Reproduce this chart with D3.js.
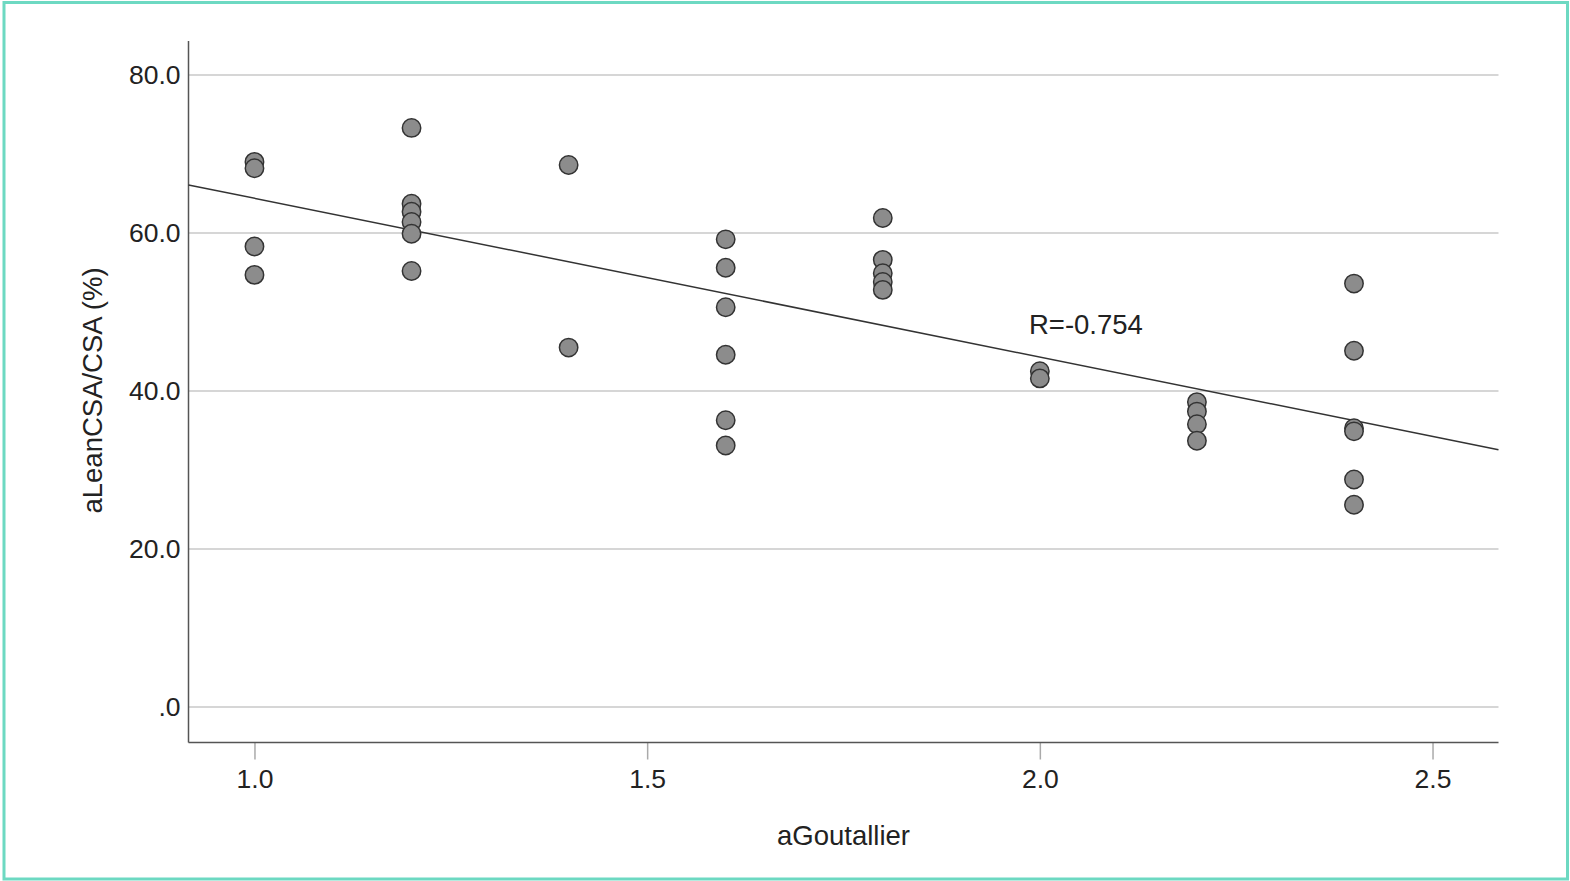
<!DOCTYPE html>
<html>
<head>
<meta charset="utf-8">
<script src="https://cdn.jsdelivr.net/npm/d3@7"></script>
<style>
  html, body { margin: 0; padding: 0; background: #fff; }
  svg { display: block; }
  text { font-family: "Liberation Sans", Arial, Helvetica, sans-serif; fill: #222; }
</style>
</head>
<body>
<svg id="chart" width="1570" height="881"></svg>
<script>
// ---- data ----
const goutallier = [1.0, 1.0, 1.0, 1.0,
  1.2, 1.2, 1.2, 1.2, 1.2, 1.2,
  1.4, 1.4,
  1.6, 1.6, 1.6, 1.6, 1.6, 1.6,
  1.8, 1.8, 1.8, 1.8, 1.8,
  2.0, 2.0,
  2.2, 2.2, 2.2, 2.2,
  2.4, 2.4, 2.4, 2.4, 2.4, 2.4];
const leanRatio = [69.0, 68.2, 58.3, 54.7,
  73.3, 63.7, 62.7, 61.4, 59.9, 55.2,
  68.6, 45.5,
  59.2, 55.6, 50.6, 44.6, 36.3, 33.1,
  61.9, 56.6, 54.9, 53.8, 52.8,
  42.5, 41.6,
  38.6, 37.4, 35.8, 33.7,
  53.6, 45.1, 35.3, 34.9, 28.8, 25.6];
const xTicks = [1.0, 1.5, 2.0, 2.5];
const xTickLabels = ["1.0", "1.5", "2.0", "2.5"];
const yTicks = [0, 20, 40, 60, 80];
const yTickLabels = [".0", "20.0", "40.0", "60.0", "80.0"];
const fitIntercept = 84.5;
const fitSlope = -20.1;
const rLabel = "R=-0.754";
const xTitle = "aGoutallier";
const yTitle = "aLeanCSA/CSA (%)";

// ---- layout ----
const svg = d3.select("#chart");
const L = 188.5, R = 1498.5, T = 41, B = 742.5;
const x = d3.scaleLinear().domain([0.916, 2.584]).range([L, R]);
const y = d3.scaleLinear().domain([-4.48, 84.3]).range([B, T]);

// outer teal frame
svg.append("rect").attr("x", 4).attr("y", 2.5).attr("width", 1563.5).attr("height", 876.5)
  .attr("fill", "none").attr("stroke", "#6dd9c2").attr("stroke-width", 3);

// gridlines
svg.append("g").selectAll("line").data(yTicks).join("line")
  .attr("x1", L).attr("x2", R)
  .attr("y1", d => y(d)).attr("y2", d => y(d))
  .attr("stroke", "#c9c9c9").attr("stroke-width", 1.5);

// y tick labels
svg.append("g").selectAll("text").data(yTicks).join("text")
  .attr("x", L - 8).attr("y", d => y(d)).attr("dy", "0.35em")
  .attr("text-anchor", "end").attr("font-size", 26.5)
  .text((d, i) => yTickLabels[i]);

// x axis via d3
const xAxis = d3.axisBottom(x).tickValues(xTicks)
  .tickFormat((d, i) => xTickLabels[i]).tickSize(17).tickSizeOuter(0).tickPadding(10);
const gx = svg.append("g").attr("transform", `translate(0,${B})`).call(xAxis);
gx.select(".domain").remove();
gx.selectAll(".tick line").attr("stroke", "#aaaaaa").attr("stroke-width", 1.5);
gx.selectAll(".tick text").attr("font-size", 26.5).attr("fill", "#222")
  .attr("font-family", "Liberation Sans, Arial, sans-serif");

// axis lines
svg.append("line").attr("x1", L).attr("x2", L).attr("y1", T).attr("y2", B)
  .attr("stroke", "#555").attr("stroke-width", 1.5);
svg.append("line").attr("x1", L).attr("x2", R).attr("y1", B).attr("y2", B)
  .attr("stroke", "#555").attr("stroke-width", 1.5);

// regression line
const xd = x.domain();
svg.append("line")
  .attr("x1", x(xd[0])).attr("y1", y(fitIntercept + fitSlope * xd[0]))
  .attr("x2", x(xd[1])).attr("y2", y(fitIntercept + fitSlope * xd[1]))
  .attr("stroke", "#333").attr("stroke-width", 1.5);

// points
svg.append("g").selectAll("circle").data(goutallier).join("circle")
  .attr("cx", d => x(d)).attr("cy", (d, i) => y(leanRatio[i]))
  .attr("r", 9.2).attr("fill", "#8c8c8c").attr("stroke", "#333").attr("stroke-width", 1.5);

// R label
svg.append("text").attr("x", 1029).attr("y", 334).attr("font-size", 27.5).text(rLabel);

// axis titles
svg.append("text").attr("x", 843.5).attr("y", 845).attr("text-anchor", "middle")
  .attr("font-size", 27.5).text(xTitle);
svg.append("text").attr("transform", `translate(101.5,390.5) rotate(-90)`)
  .attr("text-anchor", "middle").attr("font-size", 27.5).text(yTitle);
</script>
</body>
</html>
